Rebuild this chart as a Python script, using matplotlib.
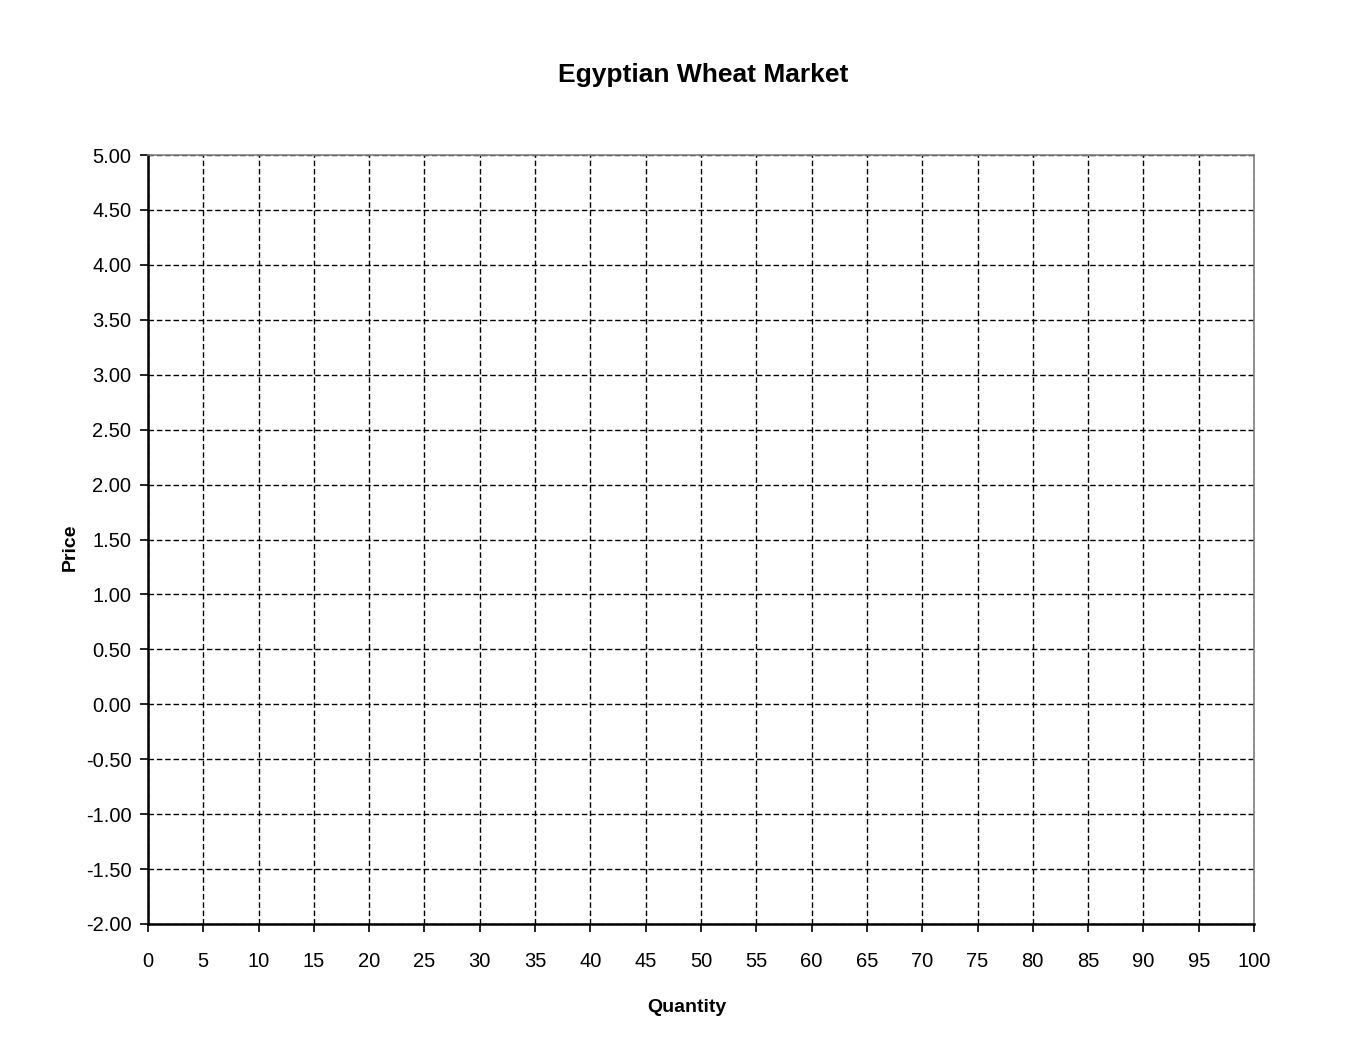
import matplotlib.pyplot as plt
import numpy as np

title = 'Egyptian Wheat Market'
x_label = 'Quantity'
y_label = 'Price'
x_ticks = np.arange(0, 101, 5)
y_ticks = np.arange(-2.0, 5.01, 0.5)

plt.rcParams['font.family'] = ['Liberation Sans Narrow', 'Liberation Sans', 'DejaVu Sans']

fig = plt.figure(figsize=(13.56, 10.64), dpi=100)
ax = fig.add_axes([0.1091, 0.1316, 0.8157, 0.7227])

ax.set_xlim(x_ticks[0], x_ticks[-1])
ax.set_ylim(y_ticks[0], y_ticks[-1])
ax.set_xticks(x_ticks)
ax.set_yticks(y_ticks)
ax.set_xticklabels([f'{v:d}' for v in x_ticks])
ax.set_yticklabels([f'{v:.2f}' for v in y_ticks])

ax.grid(True, color='black', linestyle=(0, (4, 2)), linewidth=1.0)
ax.tick_params(direction='out', length=6, width=1.2, labelsize=14.5, pad=6)
ax.tick_params(axis='x', pad=14)

ax.spines['left'].set_linewidth(1.8)
ax.spines['bottom'].set_linewidth(1.8)
ax.spines['top'].set_color('#808080')
ax.spines['right'].set_color('#808080')
ax.spines['top'].set_linewidth(1.2)
ax.spines['right'].set_linewidth(1.2)

ax.set_xlabel(x_label, fontsize=14, fontweight='bold', va='center')
ax.xaxis.set_label_coords(0.487, -0.108)
ax.set_ylabel(y_label, fontsize=14, fontweight='bold', va='center')
ax.yaxis.set_label_coords(-0.0705, 0.49)
fig.text(0.5184, 0.9295, title, fontsize=19, fontweight='bold', ha='center', va='center')

plt.savefig('out.png', dpi=100)
